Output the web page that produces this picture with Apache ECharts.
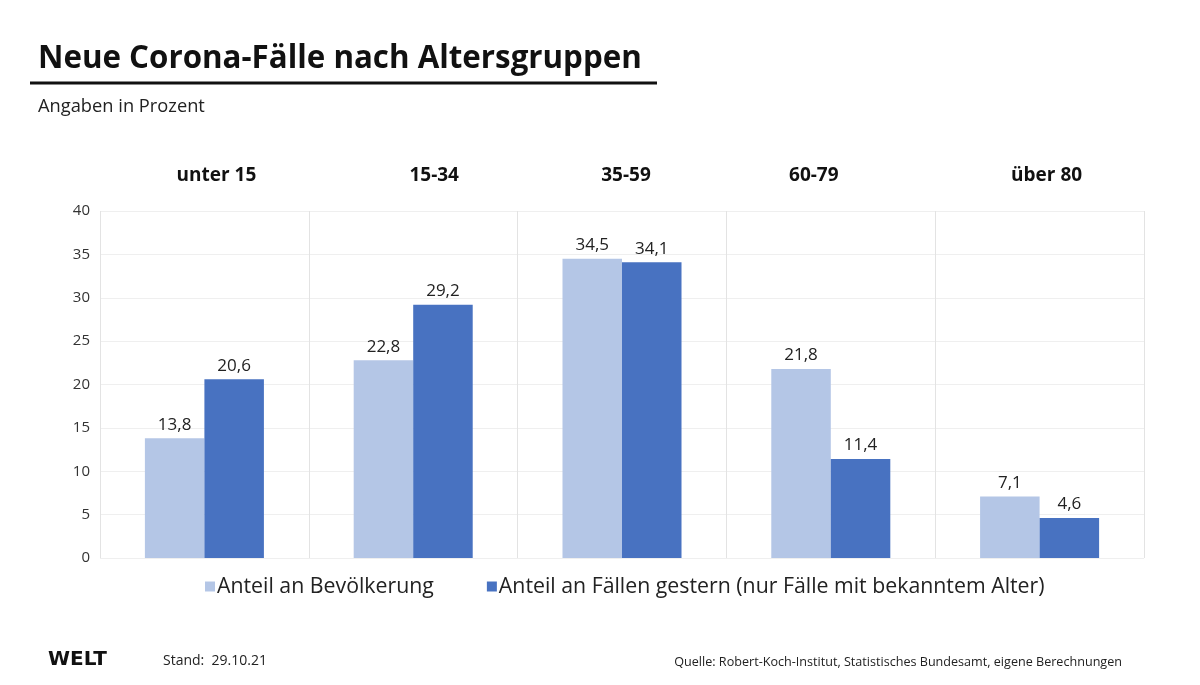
<!DOCTYPE html>
<html>
<head>
<meta charset="utf-8">
<script src="https://cdn.jsdelivr.net/npm/echarts@6/dist/echarts.min.js"></script>
<style>
html,body{margin:0;padding:0;background:#fff;}
#chart{width:1200px;height:685px;}
</style>
</head>
<body>
<div id="chart"></div>
<script>
var categories = ['unter 15', '15-34', '35-59', '60-79', 'über 80'];
var seriesNames = ['Anteil an Bevölkerung', 'Anteil an Fällen gestern (nur Fälle mit bekanntem Alter)'];
var bevoelkerung = [13.8, 22.8, 34.5, 21.8, 7.1];
var faelle = [20.6, 29.2, 34.1, 11.4, 4.6];
var yTicks = [0, 5, 10, 15, 20, 25, 30, 35, 40];

// small horizontal nudges of the category headers, as in the original layout
var headerNudge = [12, 21, 4, -17, 7];

var FONT = '"Open Sans", "Noto Sans", sans-serif';
var chart = echarts.init(document.getElementById('chart'), null, {renderer: 'canvas'});
function fmt(v){ return String(v.toFixed(1)).replace('.', ','); }

var catData = categories.map(function(c, i){
  var n = headerNudge[i];
  return {value: c, textStyle: {padding: n >= 0 ? [0, 0, 0, 2 * n] : [0, -2 * n, 0, 0]}};
});

var option = {
  backgroundColor: '#fff',
  animation: false,
  title: [
    {text: 'Neue Corona-Fälle nach Altersgruppen', left: 33, top: 39,
     textStyle: {fontFamily: FONT, fontWeight: 'bold', fontSize: 31.3, color: '#111'}},
    {text: 'Angaben in Prozent', left: 33, top: 93,
     textStyle: {fontFamily: FONT, fontWeight: 'normal', fontSize: 18.3, color: '#222'}},
    {text: 'Stand:  29.10.21', left: 158, top: 649,
     textStyle: {fontFamily: FONT, fontWeight: 'normal', fontSize: 14, color: '#222'}},
    {text: 'Quelle: Robert-Koch-Institut, Statistisches Bundesamt, eigene Berechnungen', right: 73, top: 651,
     textStyle: {fontFamily: FONT, fontWeight: 'normal', fontSize: 12.6, color: '#222'}}
  ],
  graphic: [
    {type: 'line', shape: {x1: 30, y1: 83, x2: 657, y2: 83}, style: {stroke: '#111', lineWidth: 3}},
    {type: 'text', left: 48, top: 650, style: {text: 'WELT', fontFamily: '"DejaVu Sans", sans-serif', fontWeight: 'bold', fontSize: 20, fill: '#111'}}
  ],
  legend: {
    data: seriesNames, left: 200, top: 571, itemWidth: 10, itemHeight: 10, itemGap: 53,
    icon: 'rect',
    textStyle: {fontFamily: FONT, fontSize: 21.3, color: '#222', padding: [0,0,0,-3]}
  },
  grid: {left: 100, right: 56, top: 211, bottom: 127, containLabel: false},
  xAxis: {
    type: 'category', data: catData, position: 'top',
    axisLine: {show: false}, axisTick: {show: false},
    axisLabel: {fontFamily: FONT, fontWeight: 'bold', fontSize: 19, color: '#111', margin: 26},
    splitLine: {show: true, lineStyle: {color: '#e3e3e3', width: 1}}
  },
  yAxis: {
    type: 'value', min: 0, max: 40, interval: 5,
    axisLine: {show: false}, axisTick: {show: false},
    axisLabel: {fontFamily: FONT, fontSize: 15, color: '#333', margin: 10,
      formatter: function(v){ return yTicks.indexOf(v) >= 0 ? String(v) : ''; }},
    splitLine: {show: true, lineStyle: {color: '#efefef', width: 1}}
  },
  series: [
    {name: seriesNames[0], type: 'bar', data: bevoelkerung, barGap: '0%', barCategoryGap: '43%',
     itemStyle: {color: '#B4C6E6'},
     label: {show: true, position: 'top', distance: 5, fontFamily: FONT, fontSize: 17, color: '#222', formatter: function(p){return fmt(p.value);}}},
    {name: seriesNames[1], type: 'bar', data: faelle, barGap: '0%', barCategoryGap: '43%',
     itemStyle: {color: '#4872C1'},
     label: {show: true, position: 'top', distance: 5, fontFamily: FONT, fontSize: 17, color: '#222', formatter: function(p){return fmt(p.value);}}}
  ]
};
chart.setOption(option);
</script>
</body>
</html>
